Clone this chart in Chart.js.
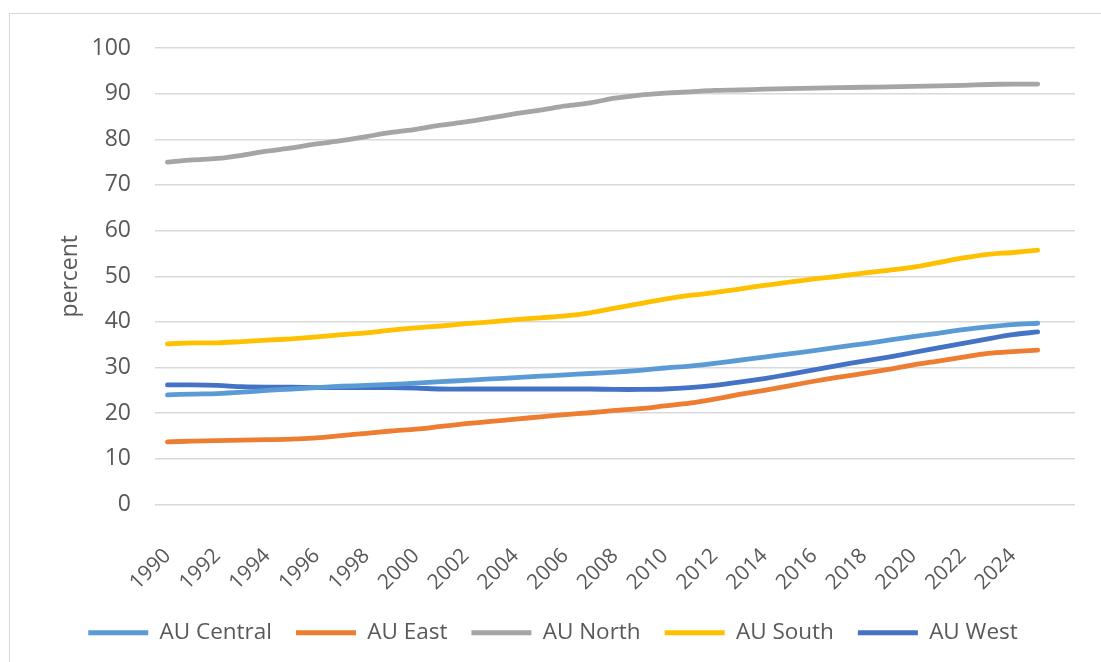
<!DOCTYPE html>
<html>
<head>
<meta charset="utf-8">
<script src="https://cdn.jsdelivr.net/npm/chart.js@4.4.1/dist/chart.umd.min.js"></script>
<style>
	body { margin: 0; background: #fff; }
	#wrap { position: relative; width: 1101px; height: 662px; overflow: hidden; }
	#frame { position: absolute; left: 9px; top: 13px; width: 1200px; height: 700px; border: 1px solid #d9d9d9; }
	#chart { position: absolute; left: 0; top: 0; }
</style>
</head>
<body>
<div id="wrap">
	<div id="frame"></div>
	<canvas id="chart" width="1101" height="662"></canvas>
</div>
<script>
const years = [1990, 1991, 1992, 1993, 1994, 1995, 1996, 1997, 1998, 1999,
	2000, 2001, 2002, 2003, 2004, 2005, 2006, 2007, 2008, 2009,
	2010, 2011, 2012, 2013, 2014, 2015, 2016, 2017, 2018, 2019,
	2020, 2021, 2022, 2023, 2024, 2025];

const auCentral = [24.0, 24.2, 24.3, 24.6, 25.0, 25.3, 25.6, 25.9, 26.1, 26.3,
	26.6, 26.9, 27.2, 27.5, 27.8, 28.1, 28.4, 28.7, 29.0, 29.4,
	29.9, 30.3, 30.9, 31.6, 32.3, 33.0, 33.7, 34.5, 35.2, 36.0,
	36.8, 37.5, 38.3, 38.9, 39.4, 39.7];
const auEast = [13.7, 13.9, 14.0, 14.1, 14.2, 14.3, 14.6, 15.1, 15.6, 16.1,
	16.5, 17.1, 17.7, 18.2, 18.7, 19.2, 19.7, 20.1, 20.6, 21.0,
	21.6, 22.2, 23.1, 24.1, 25.0, 26.0, 27.0, 27.9, 28.7, 29.6,
	30.6, 31.4, 32.3, 33.1, 33.5, 33.8];
const auNorth = [75.0, 75.5, 75.8, 76.5, 77.4, 78.1, 79.0, 79.7, 80.6, 81.5,
	82.2, 83.1, 83.8, 84.7, 85.6, 86.4, 87.3, 88.0, 89.0, 89.7,
	90.1, 90.4, 90.7, 90.8, 91.0, 91.1, 91.2, 91.3, 91.4, 91.5,
	91.6, 91.7, 91.8, 92.0, 92.1, 92.1];
const auSouth = [35.2, 35.4, 35.4, 35.7, 36.0, 36.3, 36.7, 37.2, 37.6, 38.2,
	38.7, 39.1, 39.6, 40.0, 40.5, 40.9, 41.3, 42.0, 43.0, 44.0,
	45.0, 45.8, 46.4, 47.2, 48.0, 48.7, 49.4, 50.0, 50.7, 51.3,
	52.0, 53.0, 54.0, 54.8, 55.2, 55.7];
const auWest = [26.2, 26.2, 26.1, 25.8, 25.7, 25.7, 25.6, 25.6, 25.6, 25.6,
	25.5, 25.3, 25.3, 25.3, 25.3, 25.3, 25.3, 25.3, 25.2, 25.2,
	25.3, 25.6, 26.1, 26.8, 27.6, 28.5, 29.5, 30.5, 31.4, 32.3,
	33.3, 34.3, 35.3, 36.3, 37.2, 37.8];

// one empty slot at the end, like the spreadsheet axis
const labels = years.map(String).concat(['']);

const textColor = '#595959';
const font = 'Open Sans';

function series(label, values, color) {
	return {
		label: label,
		data: values,
		borderColor: color,
		backgroundColor: color,
		borderWidth: 4.8,
		pointRadius: 0,
		tension: 0.3,
		borderCapStyle: 'round',
		fill: false
	};
}

const config = {
	type: 'line',
	data: {
		labels: labels,
		datasets: [
			series('AU Central', auCentral, '#5b9bd5'),
			series('AU East', auEast, '#ed7d31'),
			series('AU North', auNorth, '#a5a5a5'),
			series('AU South', auSouth, '#ffc000'),
			series('AU West', auWest, '#4472c4')
		]
	},
	options: {
		responsive: false,
		animation: false,
		layout: {
			padding: { left: 31, right: 26, top: 48, bottom: 8 }
		},
		plugins: {
			title: { display: false },
			tooltip: { enabled: false },
			legend: {
				position: 'bottom',
				labels: {
					color: textColor,
					font: { family: font, size: 22.5 },
					boxWidth: 60,
					boxHeight: 5,
					padding: 24,
					generateLabels: (chart) => Chart.defaults.plugins.legend.labels.generateLabels(chart)
						.map(l => Object.assign(l, { lineWidth: 0 }))
				}
			}
		},
		scales: {
			x: {
				offset: true,
				grid: { display: false },
				border: { display: false },
				afterFit: (s) => { s.height = 93; },
				ticks: {
					color: textColor,
					font: { family: font, size: 21 },
					autoSkip: false,
					maxRotation: 45,
					minRotation: 45,
					padding: 31,
					callback: function (value, index) {
						const t = labels[index];
						return (index % 2 === 0 && t !== '') ? t : null;
					}
				}
			},
			y: {
				min: 0,
				max: 100,
				afterFit: (s) => { s.width = 124; },
				grid: { color: '#d9d9d9', lineWidth: 1.5, drawTicks: false },
				border: { display: false },
				title: {
					display: true,
					text: 'percent',
					color: textColor,
					font: { family: font, size: 23 },
					padding: { top: 26, bottom: 0 }
				},
				ticks: {
					stepSize: 10,
					color: textColor,
					font: { family: font, size: 23 },
					padding: 24
				}
			}
		}
	}
};

document.addEventListener('DOMContentLoaded', () => {
	const ctx = document.getElementById('chart');
	new Chart(ctx, config);
});
</script>
</body>
</html>
